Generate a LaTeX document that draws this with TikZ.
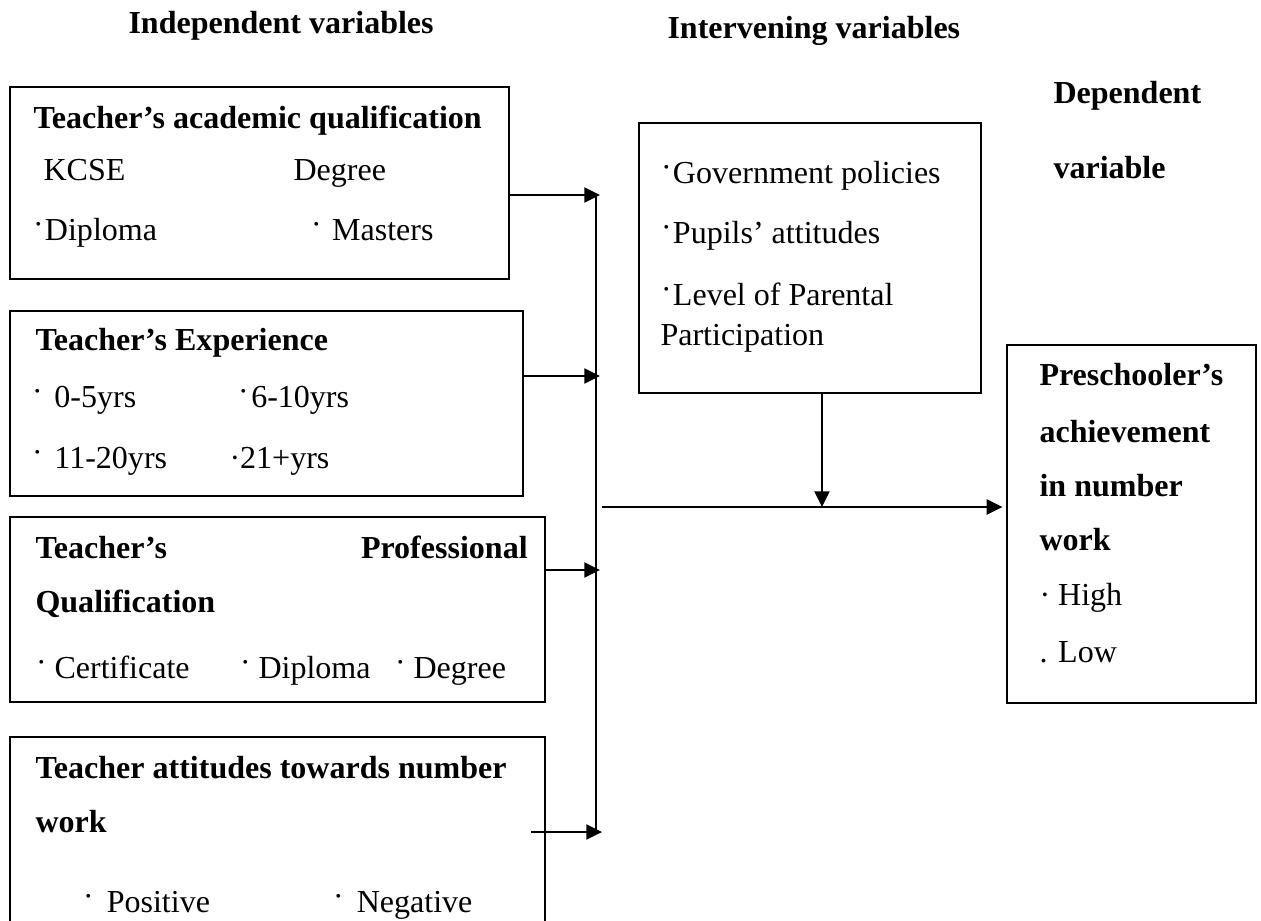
\documentclass[tikz,border=0pt]{standalone}
\usepackage{fontspec}
\setmainfont{Liberation Serif}
\usetikzlibrary{arrows.meta,fit}
\newcommand\bul{\raisebox{3.9pt}{\fontsize{6}{6}\selectfont •}}
\begin{document}
\begin{tikzpicture}[x=0.381pt,y=-0.381pt,
  box/.style={draw,line width=0.55pt,inner sep=0pt},
  txt/.style={anchor=base west,inner sep=0pt,font=\fontsize{12.2}{14}\selectfont},
  btxt/.style={anchor=base west,inner sep=0pt,font=\fontsize{12.2}{14}\selectfont\bfseries},
  arr/.style={line width=0.65pt,-{Triangle[length=6pt,width=5.8pt]}},
  ln/.style={line width=0.65pt}]
\clip (0,0) rectangle (1261,920);
\fill[white] (0,0) rectangle (1261,920);

% headings
\node[btxt] (hind) at (128,33) {Independent variables};
\node[btxt] (hint) at (667,38) {Intervening variables};
\node[btxt] (hdep1) at (1053,103) {Dependent};
\node[btxt] (hdep2) at (1053,178) {variable};

% boxes
\node[box,fit={(10,87)(509,279)}] (b1) {};
\node[box,fit={(10,311)(523,496)}] (b2) {};
\node[box,fit={(10,517)(545,702)}] (b3) {};
\node[box,fit={(10,737)(545,960)}] (b4) {};
\node[box,fit={(639,123)(981,393)}] (iv) {};
\node[box,fit={(1007,345)(1256,703)}] (dv) {};

% box 1
\node[btxt] (b1t) at (33,128) {Teacher’s academic qualification};
\node[txt] (b1a) at (43,180) {KCSE};
\node[txt] (b1b) at (293,180) {Degree};
\node[txt] (b1c) at (35,240) {\bul\hspace{1.5pt}Diploma};
\node[txt] (b1d) at (313,240) {\bul\hspace{5pt}Masters};

% box 2
\node[btxt] (b2t) at (35,350) {Teacher’s Experience};
\node[txt] (b2a) at (34,407) {\bul\hspace{5.5pt}0-5yrs};
\node[txt] (b2b) at (240,407) {\bul\hspace{2pt}6-10yrs};
\node[txt] (b2c) at (34,468) {\bul\hspace{5.5pt}11-20yrs};
\node[txt] (b2d) at (229,468) {·21+yrs};

% box 3
\node[btxt] (b3t) at (35,558) {\makebox[187.5pt][s]{Teacher’s\hfill Professional}};
\node[btxt] (b3u) at (35,612) {Qualification};
\node[txt] (b3a) at (38,678) {\bul\hspace{4pt}Certificate};
\node[txt] (b3b) at (242,678) {\bul\hspace{4pt}Diploma};
\node[txt] (b3c) at (397,678) {\bul\hspace{4pt}Degree};

% box 4
\node[btxt] (b4t) at (35,778) {Teacher attitudes towards number};
\node[btxt] (b4u) at (35,832) {work};
\node[txt] (b4a) at (85,912) {\bul\hspace{6pt}Positive};
\node[txt] (b4b) at (335,912) {\bul\hspace{6pt}Negative};

% intervening
\node[txt] (iva) at (663,183) {\bul\hspace{1.5pt}Government policies};
\node[txt] (ivb) at (663,243) {\bul\hspace{1.5pt}Pupils’ attitudes};
\node[txt] (ivc) at (663,305) {\bul\hspace{1.5pt}Level of Parental};
\node[txt] (ivd) at (660,345) {Participation};

% dependent
\node[btxt] (dva) at (1039,385) {Preschooler’s};
\node[btxt] (dvb) at (1039,442) {achievement};
\node[btxt] (dvc) at (1039,496) {in number};
\node[btxt] (dvd) at (1039,550) {work};
\node[txt] (dve) at (1039,605) {· High};
\node[txt] (dvf) at (1039,662) {. Low};

% connectors
\coordinate (j1) at (600,195);
\coordinate (j2) at (600,376);
\coordinate (j3) at (600,570);
\coordinate (j4) at (602,832);
\coordinate (s4) at (531,832);
\coordinate (bt) at (596,195);
\coordinate (bb) at (596,832);
\coordinate (m0) at (602,507);
\coordinate (md) at (822,507);

\draw[ln] (bt) -- (bb);
\draw[arr] (b1.east |- j1) -- (j1);
\draw[arr] (b2.east |- j2) -- (j2);
\draw[arr] (b3.east |- j3) -- (j3);
\draw[arr] (s4) -- (j4);
\draw[arr,shorten >=1.5pt] (m0) -- (dv.west |- m0);
\draw[arr] (iv.south -| md) -- (md);
\end{tikzpicture}
\end{document}
